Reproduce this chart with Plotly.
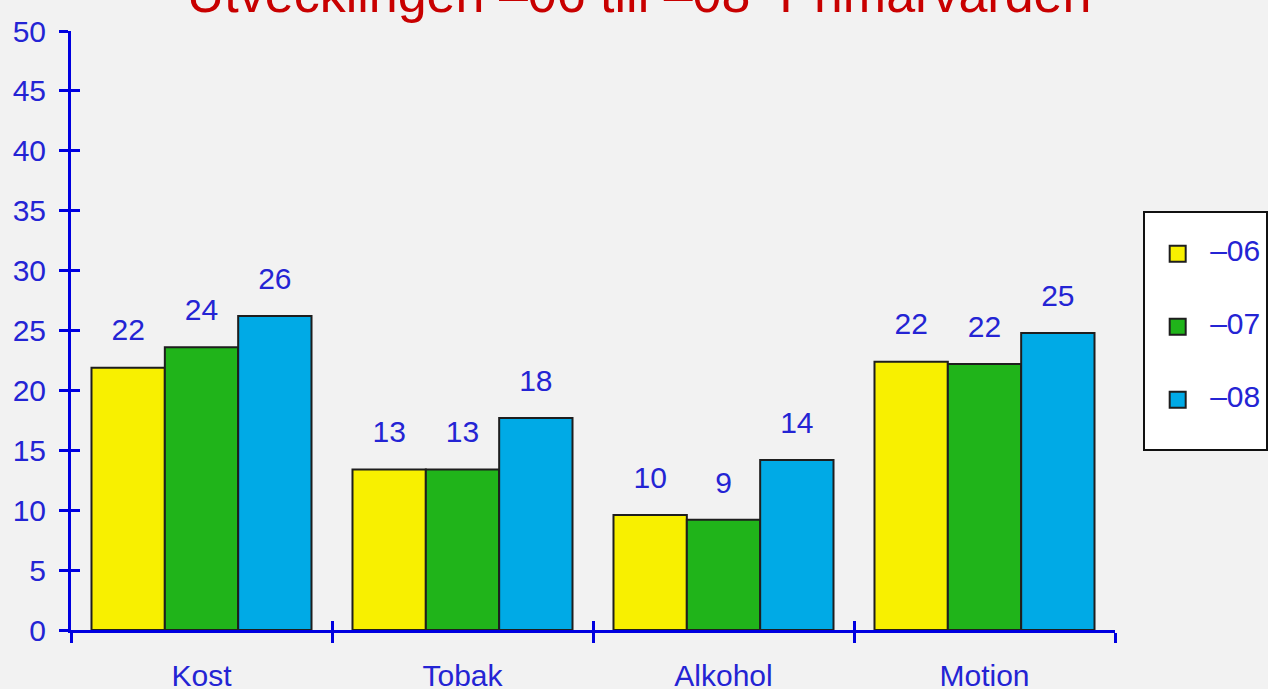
import plotly.graph_objects as go

categories = ["Kost", "Tobak", "Alkohol", "Motion"]
series_names = ["–06", "–07", "–08"]
values_06 = [21.9, 13.4, 9.6, 22.4]
values_07 = [23.6, 13.4, 9.2, 22.2]
values_08 = [26.2, 17.7, 14.2, 24.8]
labels_06 = [22, 13, 10, 22]
labels_07 = [24, 13, 9, 22]
labels_08 = [26, 18, 14, 25]
series_colors = ["#f8f000", "#20b41a", "#00aae6"]
y_ticks = list(range(0, 51, 5))
title_text = "Utvecklingen –06 till –08  Primärvården"

values = [values_06, values_07, values_08]
labels = [labels_06, labels_07, labels_08]

FONT = "Liberation Sans Narrow, Liberation Sans, Arial, sans-serif"
BLUE_AXIS = "#0000e0"
BLUE_TEXT = "#2424d4"
BG = "#f2f2f2"
GAP = 0.157

fig = go.Figure()
for i, name in enumerate(series_names):
    fig.add_trace(go.Bar(
        x=categories, y=values[i], name=name,
        marker=dict(color=series_colors[i], line=dict(color="#1e1e1e", width=2)),
        offsetgroup=str(i), alignmentgroup="a", showlegend=False, hoverinfo="skip",
    ))
    fig.add_trace(go.Scatter(
        x=categories, y=values[i], mode="markers+text",
        text=[str(v) for v in labels[i]], textposition="top center",
        textfont=dict(family=FONT, size=30, color=BLUE_TEXT),
        marker=dict(size=30, opacity=0),
        offsetgroup=str(i), alignmentgroup="a",
        showlegend=False, hoverinfo="skip", cliponaxis=False,
    ))
    fig.add_trace(go.Scatter(
        x=[None], y=[None], mode="markers",
        name="<span style='font-size:30px'>%s</span>" % name,
        legendgroup=str(i),
        marker=dict(symbol="square", size=16, color=series_colors[i],
                    line=dict(color="#1e1e1e", width=2)),
    ))
# empty legend row giving the box its bottom padding
fig.add_trace(go.Scatter(x=[None], y=[None], mode="markers", name="",
                         legendgroup="2",
                         marker=dict(size=1, color="rgba(0,0,0,0)",
                                     line=dict(width=0, color="rgba(0,0,0,0)"))))

# invisible traces on overlay axes to draw the crossing part of the ticks
fig.add_trace(go.Scatter(x=categories, y=values_06, xaxis="x", yaxis="y2",
                         mode="markers", marker=dict(opacity=0), showlegend=False,
                         hoverinfo="skip"))
fig.add_trace(go.Scatter(x=categories, y=values_06, xaxis="x2", yaxis="y",
                         mode="markers", marker=dict(opacity=0), showlegend=False,
                         hoverinfo="skip"))

fig.update_layout(
    width=1268, height=689,
    paper_bgcolor=BG, plot_bgcolor=BG,
    barmode="group", bargap=GAP, bargroupgap=0.0,
    scattermode="group", scattergap=GAP,
    margin=dict(l=71, r=153, t=31, b=59, autoexpand=False),
    title=dict(text=title_text, font=dict(family=FONT, size=52, color="#c80000"),
               x=0.504, xanchor="center", xref="container",
               y=0.983, yanchor="bottom", yref="container"),
    xaxis=dict(range=[-0.5, 3.5], showline=True, linecolor=BLUE_AXIS, linewidth=3,
               ticks="outside", tickson="boundaries", ticklen=10, tickwidth=3,
               tickcolor=BLUE_AXIS, showgrid=False,
               tickfont=dict(family=FONT, size=30, color=BLUE_TEXT),
               ticklabelstandoff=17),
    yaxis=dict(range=[0, 50], tickvals=y_ticks, showline=True, linecolor=BLUE_AXIS,
               linewidth=3, ticks="outside", ticklen=9, tickwidth=3, tickcolor=BLUE_AXIS,
               showgrid=False, zeroline=False,
               tickfont=dict(family=FONT, size=30, color=BLUE_TEXT),
               ticklabelstandoff=7),
    xaxis2=dict(overlaying="x", range=[-0.5, 3.5], anchor="y", side="bottom",
                ticks="inside", tickson="boundaries", ticklen=9, tickwidth=3,
                tickcolor=BLUE_AXIS, showticklabels=False, showgrid=False,
                showline=False, type="category", categoryarray=categories),
    yaxis2=dict(overlaying="y", range=[0, 50], tickvals=y_ticks, anchor="x",
                side="left", ticks="inside", ticklen=9, tickwidth=3,
                tickcolor=BLUE_AXIS, showticklabels=False, showgrid=False,
                zeroline=False, showline=False),
    legend=dict(x=1.027, y=0.70, xanchor="left", yanchor="top",
                bgcolor="white", bordercolor="#111111", borderwidth=2,
                font=dict(family=FONT, size=20, color=BLUE_TEXT),
                title=dict(text=" ", font=dict(size=16.5)),
                tracegroupgap=44, itemwidth=55),
    showlegend=True,
)

fig.write_html("out.html", config={"displayModeBar": False},
               post_script="document.body.style.margin='0';")
